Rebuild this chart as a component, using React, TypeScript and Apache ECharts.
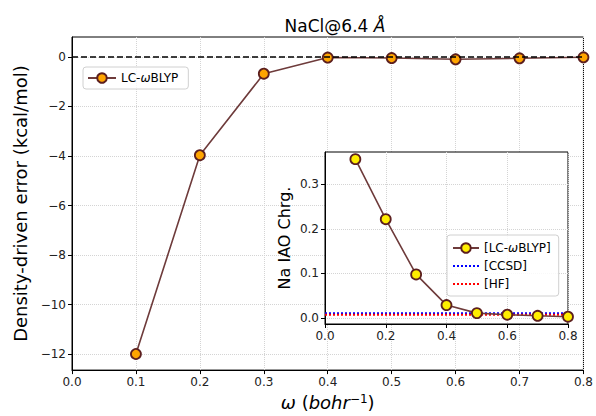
import React, { useEffect, useRef } from 'react';
import * as echarts from 'echarts';

const omega = [0.1, 0.2, 0.3, 0.4, 0.5, 0.6, 0.7, 0.8];
const ddError = [-11.99, -3.97, -0.68, -0.03, -0.05, -0.1, -0.06, -0.02];
const naCharge = [0.356, 0.2215, 0.0977, 0.029, 0.011, 0.0074, 0.005, 0.003];
const ccsdCharge = 0.0105;
const hfCharge = 0.0075;
const refLineX = [0, 0.8];
const mainYTicks = [-12, -10, -8, -6, -4, -2, 0];
const insetYTicks = [0, 0.1, 0.2, 0.3];

const FF = '"DejaVu Sans", sans-serif';
const minus = (v: number, d: number) => (v < 0 ? '\u2212' + Math.abs(v).toFixed(d) : v.toFixed(d));
const gridLine = { show: true, lineStyle: { color: '#d4d4d4', type: 'dotted' as const, width: 1 } };
const axisLine = { show: true, onZero: false, lineStyle: { color: '#000', width: 1 } };
const axisTick = { show: true, inside: false, length: 4, lineStyle: { color: '#000' } };

export default function App() {
  const ref = useRef<HTMLDivElement>(null);
  useEffect(() => {
    const chart = echarts.init(ref.current!, null, { renderer: 'svg' });
    const legendFmt = (name: string) => name.replace('ω', '{i|ω}');
    chart.setOption({
      animation: false,
      backgroundColor: '#fff',
      title: {
        text: 'NaCl@6.4 {i|Å}',
        left: 330,
        top: 12,
        textAlign: 'center',
        textStyle: {
          fontSize: 17, fontWeight: 'normal', color: '#000', fontFamily: FF,
          rich: { i: { fontSize: 17, fontStyle: 'italic', color: '#000', fontFamily: FF } },
        },
      },
      legend: [
        {
          data: ['LC-ωBLYP'],
          left: 83, top: 67,
          padding: [5, 10, 5, 4],
          itemWidth: 28, itemHeight: 12,
          borderColor: '#d0d0d0', borderWidth: 1, borderRadius: 3,
          backgroundColor: 'rgba(255,255,255,0.8)',
          formatter: legendFmt,
          textStyle: { fontSize: 12, color: '#000', fontFamily: FF, rich: { i: { fontStyle: 'italic', fontSize: 12, fontFamily: FF } } },
          z: 20,
        },
        {
          data: [
            '[LC-ωBLYP]',
            { name: '[CCSD]', itemStyle: { opacity: 0 } },
            { name: '[HF]', itemStyle: { opacity: 0 } },
          ],
          left: 447, top: 235, orient: 'vertical',
          padding: [7, 8, 6, 5],
          itemWidth: 26, itemHeight: 12, itemGap: 6,
          borderColor: '#d0d0d0', borderWidth: 1, borderRadius: 3,
          backgroundColor: 'rgba(255,255,255,0.85)',
          formatter: legendFmt,
          textStyle: { fontSize: 12, color: '#000', fontFamily: FF, rich: { i: { fontStyle: 'italic', fontSize: 12, fontFamily: FF } } },
          z: 30,
        },
      ],
      grid: [
        { left: 72, right: 7, top: 37, bottom: 45, show: true, borderColor: '#000', borderWidth: 1, backgroundColor: '#fff' },
        { left: 325, width: 243, top: 152, height: 172, show: true, borderColor: '#000', borderWidth: 1, backgroundColor: '#fff', z: 10 },
      ],
      xAxis: [
        {
          type: 'value', gridIndex: 0, min: 0, max: 0.8, interval: 0.1,
          axisLine, axisTick, splitLine: gridLine,
          axisLabel: { fontSize: 12, color: '#222', fontFamily: FF, margin: 6, formatter: (v: number) => v.toFixed(1) },
          name: '{i|ω} ({i|bohr}{sup|\u22121})',
          nameLocation: 'middle', nameGap: 18,
          nameTextStyle: {
            fontSize: 18, color: '#000', fontFamily: FF, verticalAlign: 'top',
            rich: {
              i: { fontSize: 18, fontStyle: 'italic', fontFamily: FF, color: '#000' },
              sup: { fontSize: 12, fontFamily: FF, color: '#000', verticalAlign: 'top' },
            },
          },
        },
        {
          type: 'value', gridIndex: 1, min: 0, max: 0.8, interval: 0.2,
          axisLine, axisTick, splitLine: gridLine, z: 10,
          axisLabel: { fontSize: 12, color: '#222', fontFamily: FF, margin: 6, formatter: (v: number) => v.toFixed(1) },
        },
      ],
      yAxis: [
        {
          type: 'value', gridIndex: 0, min: -12.64, max: 0.8,
          axisLine, axisTick: { ...axisTick, customValues: mainYTicks }, splitLine: gridLine,
          axisLabel: { fontSize: 12, color: '#222', fontFamily: FF, margin: 6, customValues: mainYTicks, formatter: (v: number) => minus(v, 0) },
          name: 'Density-driven error (kcal/mol)',
          nameLocation: 'middle', nameGap: 37,
          nameTextStyle: { fontSize: 18, color: '#000', fontFamily: FF },
        },
        {
          type: 'value', gridIndex: 1, min: -0.0134, max: 0.372, z: 10,
          axisLine, axisTick: { ...axisTick, customValues: insetYTicks }, splitLine: gridLine,
          axisLabel: { fontSize: 12, color: '#222', fontFamily: FF, margin: 6, customValues: insetYTicks, formatter: (v: number) => v.toFixed(1) },
          name: 'Na IAO Chrg.',
          nameLocation: 'middle', nameGap: 33,
          nameTextStyle: { fontSize: 16, color: '#000', fontFamily: FF },
        },
      ],
      series: [
        {
          name: 'LC-ωBLYP', type: 'line', xAxisIndex: 0, yAxisIndex: 0,
          data: omega.map((x, i) => [x, ddError[i]]),
          symbol: 'circle', symbolSize: 10,
          lineStyle: { color: '#6e3b3b', width: 1.6 },
          itemStyle: { color: '#ffa500', borderColor: '#5c1f1f', borderWidth: 1.8 },
          z: 3,
          markLine: {
            silent: true, symbol: ['none', 'none'],
            label: { show: false },
            lineStyle: { color: '#000', type: [6, 3], width: 1.5 },
            data: [{ yAxis: 0 }],
          },
        },
        {
          name: '[CCSD]', type: 'line', xAxisIndex: 1, yAxisIndex: 1,
          data: refLineX.map((x) => [x, ccsdCharge]),
          symbol: 'none',
          lineStyle: { color: '#0000ff', width: 2, type: [2, 2] },
          itemStyle: { color: '#0000ff' },
          z: 12,
        },
        {
          name: '[HF]', type: 'line', xAxisIndex: 1, yAxisIndex: 1,
          data: refLineX.map((x) => [x, hfCharge]),
          symbol: 'none',
          lineStyle: { color: '#ff0000', width: 2, type: [2, 2] },
          itemStyle: { color: '#ff0000' },
          z: 12,
        },
        {
          name: '[LC-ωBLYP]', type: 'line', xAxisIndex: 1, yAxisIndex: 1,
          data: omega.map((x, i) => [x, naCharge[i]]),
          symbol: 'circle', symbolSize: 10,
          lineStyle: { color: '#6e3b3b', width: 1.6 },
          itemStyle: { color: '#ffee00', borderColor: '#5c1f1f', borderWidth: 1.8 },
          z: 13,
        },
      ],
    });
    return () => chart.dispose();
  }, []);
  return <div ref={ref} style={{ position: 'fixed', left: 0, top: 0, width: 596, height: 416 }} />;
}
